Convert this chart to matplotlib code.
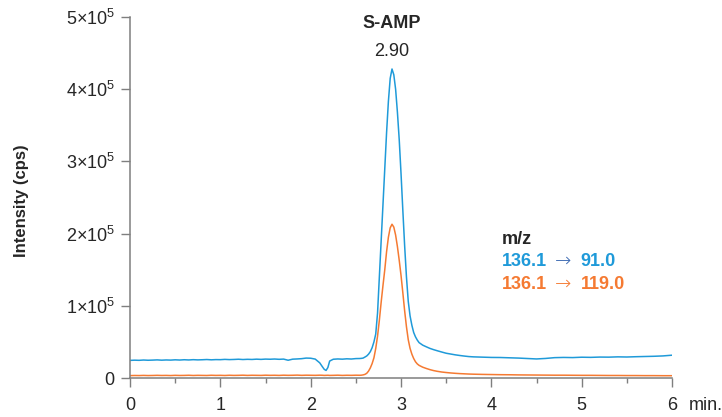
"""
S-AMP MRM chromatogram: two transitions of m/z 136.1, intensity vs retention time.
Saves out.png (722x417).
"""

import matplotlib
matplotlib.use("Agg")
import matplotlib.pyplot as plt
from matplotlib.ticker import FixedLocator, FixedFormatter, MultipleLocator

plt.rcParams["font.family"] = ["Liberation Sans", "DejaVu Sans"]
plt.rcParams["mathtext.fontset"] = "custom"
plt.rcParams["mathtext.rm"] = "Liberation Sans"
plt.rcParams["mathtext.bf"] = "Liberation Sans:bold"

# retention time (min)
time_min = (
    [0.00, 0.05, 0.10, 0.15, 0.20, 0.25, 0.30, 0.35, 0.40, 0.45,
     0.50, 0.55, 0.60, 0.65, 0.70, 0.75, 0.80, 0.85, 0.90, 0.95,
     1.00, 1.05, 1.10, 1.15, 1.20, 1.25, 1.30, 1.35, 1.40, 1.45,
     1.50, 1.55, 1.60, 1.65, 1.70, 1.75, 1.80, 1.85, 1.90, 1.95, 2.00]
    + [2.05, 2.10, 2.13, 2.15, 2.17, 2.19, 2.21, 2.25, 2.30, 2.35,
       2.40, 2.45, 2.50, 2.54]
    + [2.56, 2.58, 2.60, 2.62, 2.64, 2.66, 2.68, 2.70, 2.72, 2.74,
       2.76, 2.78, 2.80, 2.82, 2.84, 2.86, 2.88, 2.90, 2.92, 2.94,
       2.96, 2.98, 3.00, 3.02, 3.04, 3.06, 3.08, 3.10, 3.12, 3.14,
       3.16, 3.18, 3.20]
    + [3.24, 3.28, 3.32, 3.36, 3.40, 3.45, 3.50, 3.55, 3.60, 3.65,
       3.70, 3.75, 3.80, 3.90, 4.00, 4.10, 4.20, 4.30, 4.40, 4.50,
       4.60, 4.70, 4.80, 4.90, 5.00, 5.10, 5.20, 5.30, 5.40, 5.50,
       5.60, 5.70, 5.80, 5.90, 6.00]
)

# 136.1 -> 91.0 (cps)
mrm_91 = (
    [24400, 24700, 24500, 24900, 24600, 24800, 25100, 24700, 25000, 24800,
     25200, 24900, 25300, 25000, 25400, 25100, 25300, 25600, 25200, 25500,
     25400, 25800, 25500, 25700, 26000, 25600, 25900, 25700, 26100, 25800,
     26200, 26000, 26300, 25900, 26200, 24600, 26100, 26400, 26800, 27600, 27400]
    + [26200, 21000, 15500, 12000, 10500, 14500, 23500, 26000, 26400, 26100,
       26600, 26300, 26900, 27000]
    + [27200, 27600, 29000, 30500, 33000, 36500, 42000, 50000, 61000, 90000,
       140000, 190000, 240000, 290000, 340000, 383000, 415000, 428000, 420000, 400000,
       368000, 330000, 283000, 232000, 183000, 140000, 106000, 86000, 73000, 63000,
       57000, 52500, 49000]
    + [45500, 43200, 41000, 39300, 37800, 36000, 34300, 33200, 32100, 31200,
       30400, 29700, 29300, 28900, 28500, 28400, 28000, 27600, 27000, 26400,
       27100, 28200, 28500, 28300, 28800, 28600, 29000, 28900, 29300, 29100,
       29500, 29800, 30100, 30600, 31600]
)

# 136.1 -> 119.0 (cps)
mrm_119 = (
    [3300, 3500, 3400, 3600, 3400, 3500, 3700, 3500, 3600, 3400,
     3700, 3500, 3600, 3800, 3500, 3700, 3600, 3500, 3800, 3600,
     3700, 3500, 3800, 3600, 3700, 3900, 3600, 3800, 3700, 3600,
     3900, 3700, 3800, 3600, 3900, 3700, 3800, 4000, 3700, 3900, 3800]
    + [3700, 3900, 3800, 3600, 3700, 3800, 3600, 3700, 3900, 3600,
       3800, 3700, 3900, 3800]
    + [3900, 4300, 5000, 6500, 9500, 14000, 20000, 28000, 41000, 58000,
       80000, 105000, 128000, 150000, 175000, 195000, 208000, 213000, 209000, 198000,
       182000, 163000, 142000, 118000, 93000, 71000, 53000, 41000, 33000, 27000,
       22500, 19500, 17500]
    + [15000, 13200, 11600, 10300, 9300, 8300, 7600, 7000, 6500, 6100,
       5800, 5500, 5300, 5000, 4800, 4600, 4500, 4300, 4200, 4100,
       4000, 3900, 3900, 3800, 3700, 3700, 3600, 3500, 3500, 3400,
       3400, 3300, 3300, 3200, 3200]
)

y_ticks = [0, 100000, 200000, 300000, 400000, 500000]
y_tick_labels = ["0"] + [r"$%d{\times}10^{5}$" % k for k in range(1, 6)]
x_ticks = [0, 1, 2, 3, 4, 5, 6]

peak_rt = 2.90
compound = "S-AMP"
precursor = "136.1"
products = ["91.0", "119.0"]

BLUE = "#1f9ad9"
ORANGE = "#f57a32"
ARROW_BLUE = "#3d6bb3"
GREY = "#7f7f7f"
TXT = "#262626"
FS = 13

fig = plt.figure(figsize=(7.22, 4.17), dpi=100)
ax = fig.add_axes([0.1801, 0.0935, 0.7507, 0.8657])

ax.plot(time_min, mrm_119, color=ORANGE, lw=1.1)
ax.plot(time_min, mrm_91, color=BLUE, lw=1.1)

ax.set_xlim(0, 6)
ax.set_ylim(0, 500000)

for side in ("top", "right"):
    ax.spines[side].set_visible(False)
for side in ("left", "bottom"):
    ax.spines[side].set_color(GREY)
    ax.spines[side].set_linewidth(1.1)

ax.xaxis.set_major_locator(FixedLocator(x_ticks))
ax.xaxis.set_minor_locator(MultipleLocator(0.5))
ax.yaxis.set_major_locator(FixedLocator(y_ticks))
ax.yaxis.set_major_formatter(FixedFormatter(y_tick_labels))

ax.tick_params(axis="both", which="major", direction="out", length=6.5, width=1.0,
               color=GREY, labelcolor=TXT, labelsize=FS)
ax.tick_params(axis="x", which="major", pad=7.5)
ax.tick_params(axis="y", which="major", pad=4.5)
ax.tick_params(axis="x", which="minor", direction="out", length=3.5, width=1.0, color=GREY)

ax.set_ylabel("Intensity (cps)", fontsize=12, fontweight="bold", color=TXT)
ax.yaxis.set_label_coords(-0.187, 0.49)

ax.annotate("min.", xy=(6, 0), xycoords=("data", "axes fraction"),
            xytext=(12, -14), textcoords="offset points",
            ha="left", va="top", fontsize=FS, color=TXT, annotation_clip=False)

ax.text(peak_rt, 491000, compound, ha="center", va="center",
        fontsize=FS, fontweight="bold", color=TXT)
ax.text(peak_rt, 452000, "%.2f" % peak_rt, ha="center", va="center",
        fontsize=FS, color=TXT)

# legend block: m/z header, then precursor -> product per trace
leg_x = 4.12
ax.text(leg_x, 192500, "m/z", ha="left", va="center",
        fontsize=FS, fontweight="bold", color=TXT)
for yv, prod, col, arrow_col in [(162000, products[0], BLUE, ARROW_BLUE),
                                 (130000, products[1], ORANGE, ORANGE)]:
    ax.annotate(precursor, xy=(leg_x, yv), xycoords="data", ha="left", va="center",
                fontsize=FS, fontweight="bold", color=col)
    ax.annotate("\u2192", xy=(leg_x, yv), xycoords="data", xytext=(43.5, 0.5),
                textcoords="offset points", ha="center", va="center",
                fontsize=14, color=arrow_col, family="DejaVu Sans",
                fontweight=200)
    ax.annotate(prod, xy=(leg_x, yv), xycoords="data", xytext=(56.5, 0),
                textcoords="offset points", ha="left", va="center",
                fontsize=FS, fontweight="bold", color=col)

fig.savefig("out.png", dpi=100)
plt.close(fig)
